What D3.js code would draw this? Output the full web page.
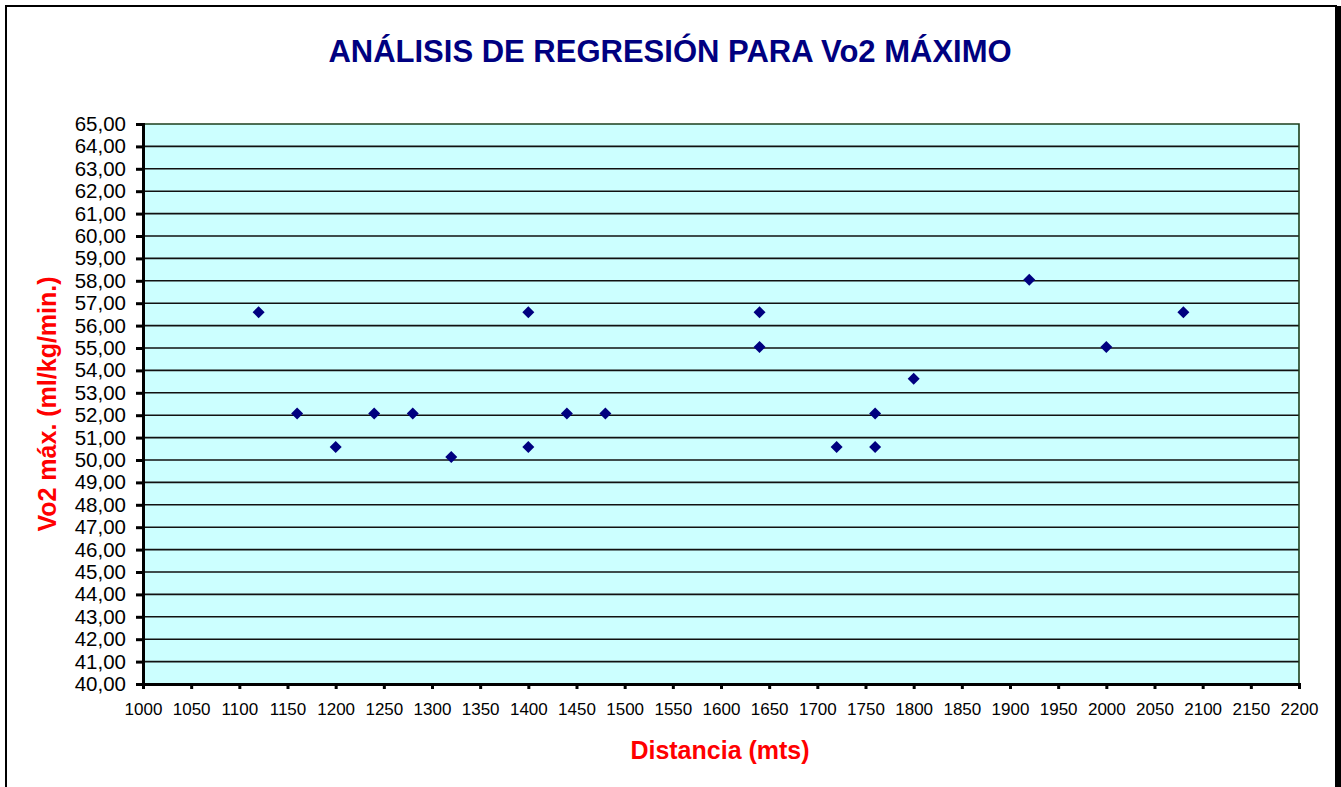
<!DOCTYPE html>
<html>
<head>
<meta charset="utf-8">
<script src="https://cdn.jsdelivr.net/npm/d3@7"></script>
<style>
  body { margin: 0; background: #fff; }
  svg { display: block; font-family: Arial, "Liberation Sans", sans-serif; }
</style>
</head>
<body>
<svg id="chart" width="1341" height="787"></svg>
<script>
// distance (mts) vs Vo2 max
const distancia = [1120, 1160, 1200, 1240, 1280, 1320, 1400, 1400, 1440, 1480,
                   1640, 1640, 1720, 1760, 1760, 1800, 1920, 2000, 2080]
const vo2 = [56.6, 52.08, 50.58, 52.08, 52.08, 50.13, 56.6, 50.58, 52.08, 52.08,
             56.6, 55.05, 50.58, 52.08, 50.58, 53.63, 58.05, 55.05, 56.6]
const xTicks = d3.range(1000, 2201, 50)
const yTicks = d3.range(40, 65.001, 1)

const titulo = "ANÁLISIS DE REGRESIÓN PARA Vo2 MÁXIMO"
const tituloX = "Distancia (mts)"
const tituloY = "Vo2 máx. (ml/kg/min.)"

const svg = d3.select("#chart")
const margin = {left: 143, right: 42, top: 124, bottom: 103}
const width = +svg.attr("width")
const height = +svg.attr("height")

const es = d3.formatLocale({decimal: ",", thousands: ".", grouping: [3], currency: ["", ""]})
const fmt = es.format(".2f")

const x = d3.scaleLinear().domain([1000, 2200]).range([margin.left, width - margin.right])
const y = d3.scaleLinear().domain([40, 65]).range([height - margin.bottom, margin.top])

// outer frame
svg.append("rect")
  .attr("x", 6).attr("y", 6)
  .attr("width", 1330).attr("height", 800)
  .attr("fill", "none").attr("stroke", "#000").attr("stroke-width", 2)
svg.append("rect")
  .attr("x", 1335).attr("y", 6).attr("width", 6).attr("height", 781)
  .attr("fill", "#000")

// plot background
svg.append("rect")
  .attr("x", x(1000)).attr("y", y(65))
  .attr("width", x(2200) - x(1000)).attr("height", y(40) - y(65))
  .attr("fill", "#ccffff")

// gridlines
svg.append("g")
  .selectAll("line")
  .data(yTicks.filter(d => d > 40 && d < 65))
  .enter()
  .append("line")
  .attr("x1", x(1000)).attr("x2", x(2200))
  .attr("y1", d => y(d)).attr("y2", d => y(d))
  .attr("stroke", "#111").attr("stroke-width", 1.6)

// top / right border of plot area
svg.append("path")
  .attr("d", `M${x(1000)},${y(65)}H${x(2200)}V${y(40)}`)
  .attr("fill", "none").attr("stroke", "#1c3f1c").attr("stroke-width", 1.6)

// axes
const yAxis = d3.axisLeft(y).tickValues(yTicks).tickFormat(fmt).tickSize(7).tickPadding(10)
const gy = svg.append("g")
  .attr("transform", `translate(${x(1000)},0)`)
  .call(yAxis)
gy.select(".domain").attr("stroke-width", 3)
gy.selectAll(".tick line").attr("stroke-width", 3)
gy.selectAll("text").attr("font-size", "20.5px").attr("fill", "#000")
  .attr("font-family", "Arial, 'Liberation Sans', sans-serif")

const xAxis = d3.axisBottom(x).tickValues(xTicks).tickFormat(d3.format("d")).tickSize(5).tickPadding(14)
const gx = svg.append("g")
  .attr("transform", `translate(0,${y(40)})`)
  .call(xAxis)
gx.select(".domain").attr("stroke-width", 3)
gx.selectAll(".tick line").attr("stroke-width", 3)
gx.selectAll("text").attr("font-size", "17px").attr("fill", "#000")
  .attr("font-family", "Arial, 'Liberation Sans', sans-serif")

// points
svg.append("g")
  .selectAll("path")
  .data(distancia.map((d, i) => [d, vo2[i]]))
  .enter()
  .append("path")
  .attr("d", d3.symbol().type(d3.symbolSquare).size(72))
  .attr("transform", d => `translate(${x(d[0])},${y(d[1])}) rotate(45)`)
  .attr("fill", "#000080")

// titles
svg.append("text")
  .attr("x", 670).attr("y", 62)
  .attr("text-anchor", "middle")
  .attr("font-size", "31px").attr("font-weight", "bold")
  .attr("fill", "#000080")
  .text(titulo)

svg.append("text")
  .attr("x", 720).attr("y", 759)
  .attr("text-anchor", "middle")
  .attr("font-size", "25px").attr("font-weight", "bold")
  .attr("fill", "#ff0000")
  .text(tituloX)

svg.append("text")
  .attr("transform", "translate(56,404) rotate(-90)")
  .attr("text-anchor", "middle")
  .attr("font-size", "25px").attr("font-weight", "bold")
  .attr("fill", "#ff0000")
  .text(tituloY)
</script>
</body>
</html>
